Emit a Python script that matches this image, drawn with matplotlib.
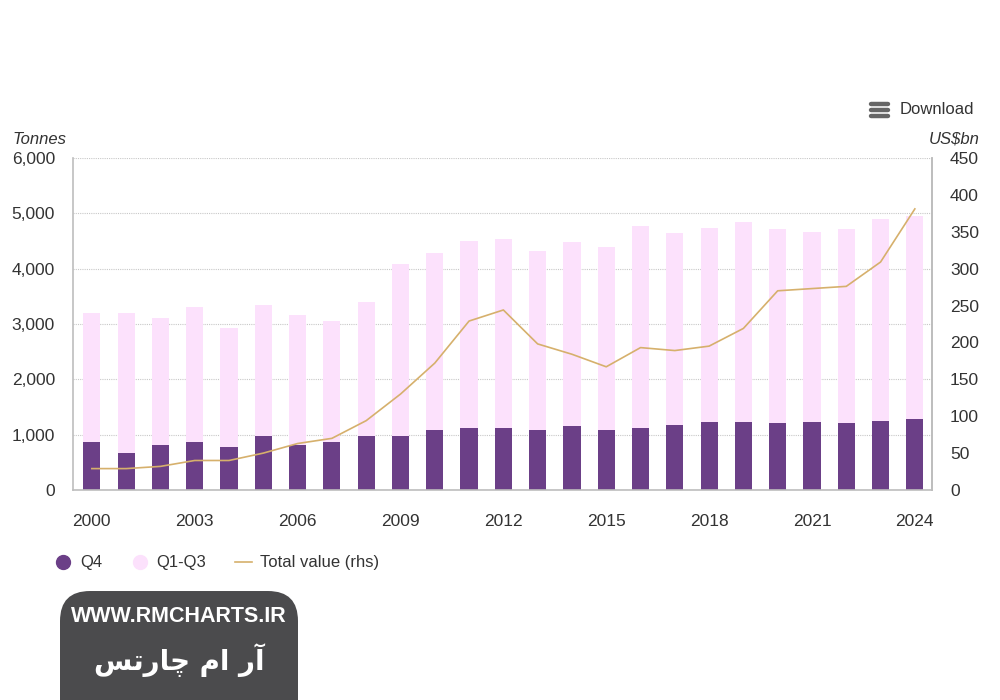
import matplotlib.pyplot as plt
import numpy as np
from matplotlib.lines import Line2D
from matplotlib.patches import FancyBboxPatch

# ===== Data =====
years = list(range(2000, 2025))
total_tonnes = [3200, 3200, 3100, 3310, 2930, 3340, 3170, 3050, 3400, 4080,
                4290, 4500, 4530, 4320, 4480, 4400, 4770, 4640, 4740, 4850,
                4710, 4670, 4710, 4900, 4950]
q4 = [860, 670, 810, 860, 770, 975, 810, 860, 975, 975,
      1090, 1115, 1115, 1090, 1160, 1090, 1115, 1180, 1235, 1235,
      1205, 1235, 1205, 1255, 1275]
total_value = [29, 29, 32, 40, 40, 50, 63, 70, 94, 130,
               172, 229, 244, 198, 184, 167, 193, 189, 195, 219,
               270, 273, 276, 309, 381]
q1_q3 = [t - q for t, q in zip(total_tonnes, q4)]

left_ticks = [0, 1000, 2000, 3000, 4000, 5000, 6000]
right_ticks = [0, 50, 100, 150, 200, 250, 300, 350, 400, 450]

# ===== Styles =====
c_q4 = "#6b3f87"
c_q13 = "#fce1fc"
c_line = "#d6b06c"
c_text = "#333333"
c_axis = "#bdbdbd"

plt.rcParams['font.family'] = ['Liberation Sans', 'DejaVu Sans']

fig = plt.figure(figsize=(10, 7), dpi=100)
ax = fig.add_axes([0.073, 0.3, 0.859, 0.4743])

x = np.arange(len(years))
ax.bar(x, q4, width=0.5, color=c_q4, zorder=2)
ax.bar(x, q1_q3, width=0.5, bottom=q4, color=c_q13, zorder=2)

ax.set_xlim(-0.55, 24.5)
ax.set_ylim(0, 6000)
ax.set_yticks(left_ticks)
ax.set_yticklabels([f"{v:,}" for v in left_ticks])
ax.set_xticks(x[::3])
ax.set_xticklabels([str(y) for y in years[::3]])
ax.tick_params(axis='y', length=0, pad=13, labelsize=12.5, labelcolor=c_text)
ax.tick_params(axis='x', length=0, pad=17, labelsize=12.5, labelcolor=c_text)
ax.grid(axis='y', linestyle=(0, (1, 1)), color="#c8c8c8", linewidth=0.8, zorder=0)
ax.set_axisbelow(True)
for s in ['left', 'bottom', 'right']:
    ax.spines[s].set_color(c_axis)
    ax.spines[s].set_linewidth(1.2)
ax.spines['top'].set_visible(False)

ax2 = ax.twinx()
ax2.plot(x, total_value, color=c_line, linewidth=1.2, zorder=3)
ax2.set_ylim(0, 450)
ax2.set_yticks(right_ticks)
ax2.tick_params(axis='y', length=0, pad=13, labelsize=12.5, labelcolor=c_text)
for s in ['left', 'bottom', 'top']:
    ax2.spines[s].set_visible(False)
ax2.spines['right'].set_color(c_axis)
ax2.spines['right'].set_linewidth(1.2)

# axis unit labels
fig.text(0.012, 1 - 139 / 700, "Tonnes", fontsize=12, style='italic', color=c_text, va='center')
fig.text(0.929, 1 - 139 / 700, "US$bn", fontsize=12, style='italic', color=c_text, va='center', ha='left')

# download button
for yy in [104, 110, 116]:
    fig.add_artist(Line2D([0.871, 0.888], [1 - yy / 700] * 2, color="#666666",
                          linewidth=3.2, solid_capstyle='round'))
fig.text(0.900, 1 - 110 / 700, "Download", fontsize=12, color=c_text, va='center')

# legend
handles = [
    Line2D([], [], marker='o', linestyle='none', markersize=10, color=c_q4),
    Line2D([], [], marker='o', linestyle='none', markersize=10, color=c_q13),
    Line2D([], [], color=c_line, linewidth=1.2),
]
fig.legend(handles, ["Q4", "Q1-Q3", "Total value (rhs)"], loc='center left',
           bbox_to_anchor=(0.04, 1 - 563 / 700), ncol=3, frameon=False,
           fontsize=12, handlelength=1.0, handletextpad=0.5, columnspacing=1.75,
           labelcolor=c_text)

# watermark
box = FancyBboxPatch((0.06, -0.05), 0.238, 0.2057, transform=fig.transFigure,
                     boxstyle="round,pad=0,rounding_size=0.03", facecolor="#4b4b4d",
                     edgecolor='none', mutation_aspect=1.43)
fig.add_artist(box)
fig.text(0.179, 1 - 617 / 700, "WWW.RMCHARTS.IR", fontsize=15.5, fontweight='bold',
         color='white', ha='center', va='center')
# Persian text, shaped and in visual order
fa_text = "\uFEB2\uFE97\uFEAD\uFE8E\uFB7C \uFEE1\uFE8D \uFEAD\uFE81"
fig.text(0.179, 1 - 660 / 700, fa_text, fontsize=20, fontweight='bold',
         color='white', ha='center', va='center', family=['DejaVu Sans'])

fig.savefig("out.png", dpi=100)
